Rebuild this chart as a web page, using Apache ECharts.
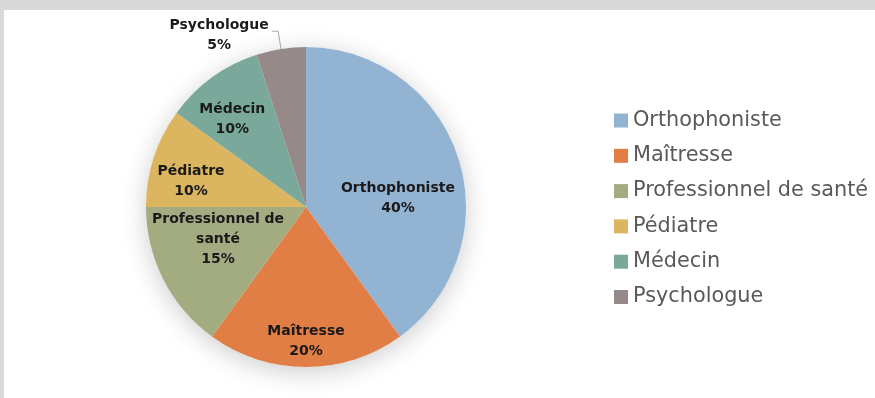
<!DOCTYPE html>
<html>
<head>
<meta charset="utf-8">
<script src="https://cdn.jsdelivr.net/npm/echarts@6/dist/echarts.min.js"></script>
<style>
  html, body { margin: 0; padding: 0; background: #d9d9d9; }
  #chart { width: 875px; height: 398px; }
</style>
</head>
<body>
<div id="chart"></div>
<script>
// Répartition des intervenants
const categories = ['Orthophoniste', 'Maîtresse', 'Professionnel de santé', 'Pédiatre', 'Médecin', 'Psychologue'];
const sliceLabels = ['Orthophoniste', 'Maîtresse', 'Professionnel de\nsanté', 'Pédiatre', 'Médecin', 'Psychologue'];
const percentValues = [40, 20, 15, 10, 10, 5];
const sliceColors = ['#93b3d3', '#e07e45', '#a2ac80', '#dbb55f', '#7aa89b', '#958a89'];
// label nudges (px) from the default inside position
const labelOffsets = [[13, 17], [0, 51], [-14, -5], [-36, 0], [-25, -20], [0, 4]];

const center = [306, 207];
const radius = 160;
const labelFont = 'DejaVu Sans';

const data = categories.map((name, i) => {
  const item = {
    name: name,
    value: percentValues[i],
    itemStyle: { color: sliceColors[i] },
    label: { offset: labelOffsets[i] }
  };
  if (i === categories.length - 1) {
    item.label = {
      position: 'outside', offset: labelOffsets[i], distanceToLabelLine: 2,
      formatter: p => '{c|' + sliceLabels[p.dataIndex] + '}\n{c|' + p.value + '%}',
      rich: {
        c: {
          width: 102, align: 'center', fontFamily: labelFont, fontWeight: 'bold',
          fontSize: 14, lineHeight: 20, color: '#1a1a1a'
        }
      }
    };
    item.labelLine = {
      show: true, length: 18, length2: 6,
      lineStyle: { color: '#a6a6a6', width: 1 }
    };
  }
  return item;
});

const chart = echarts.init(document.getElementById('chart'), null, { renderer: 'canvas' });
chart.setOption({
  backgroundColor: '#d9d9d9',
  animation: false,
  graphic: [{
    type: 'rect', z: -10,
    shape: { x: 4, y: 10, width: 871, height: 388 },
    style: { fill: '#ffffff' }
  }],
  legend: {
    orient: 'vertical',
    left: 609, top: 105,
    icon: 'rect',
    itemWidth: 14, itemHeight: 14,
    itemGap: 14.3,
    selectedMode: false,
    textStyle: { fontFamily: 'DejaVu Sans', fontSize: 20.8, color: '#595959', lineHeight: 21 },
    data: categories
  },
  series: [
    {
      // soft shadow under the disc
      type: 'pie', silent: true, center: center, radius: radius,
      z: 1, label: { show: false }, labelLine: { show: false },
      itemStyle: {
        color: '#ffffff',
        shadowBlur: 26, shadowColor: 'rgba(0,0,0,0.2)', shadowOffsetY: 5
      },
      data: [{ value: 1, name: '' }],
      tooltip: { show: false }
    },
    {
      type: 'pie', center: center, radius: radius, z: 2,
      startAngle: 90, clockwise: true,
      avoidLabelOverlap: false,
      label: {
        show: true, position: 'inside',
        fontFamily: labelFont, fontWeight: 'bold', fontSize: 14,
        color: '#1a1a1a', lineHeight: 20, align: 'center',
        formatter: p => sliceLabels[p.dataIndex] + '\n' + p.value + '%'
      },
      labelLine: { show: false },
      emphasis: { disabled: true },
      data: data
    }
  ]
});
</script>
</body>
</html>
